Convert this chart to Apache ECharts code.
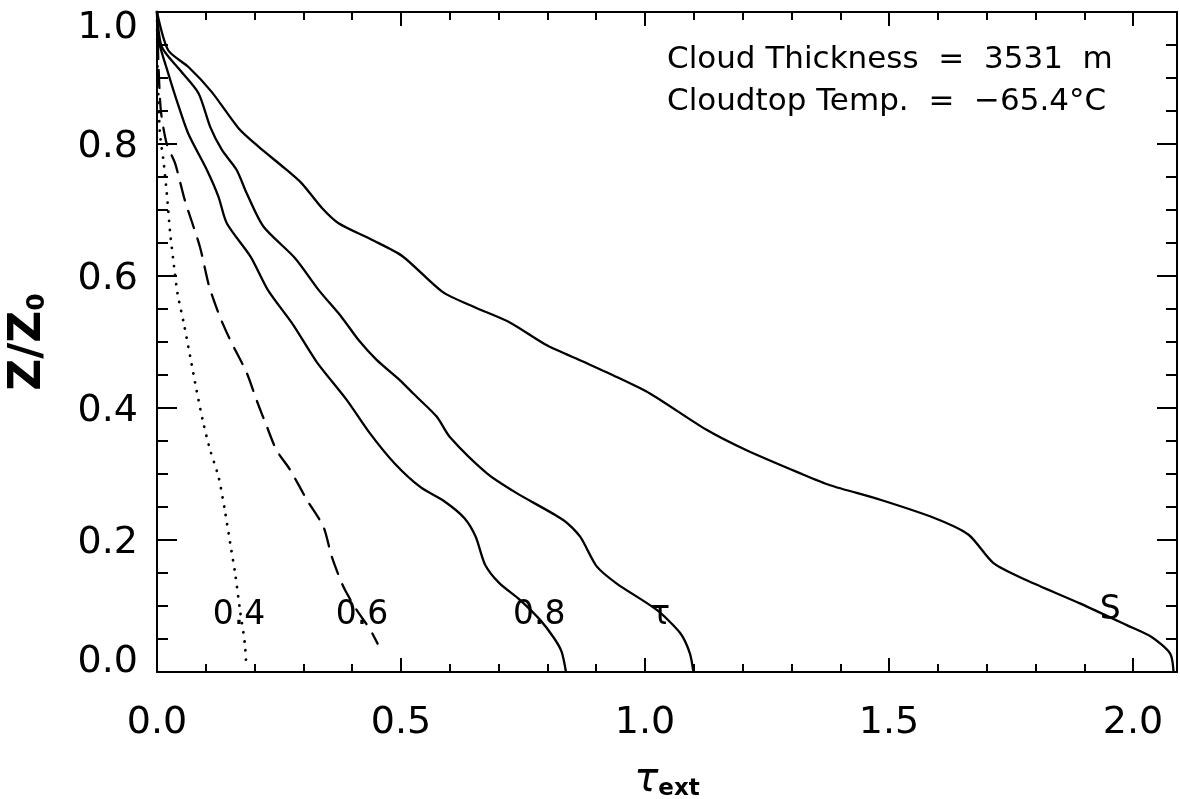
<!DOCTYPE html>
<html>
<head>
<meta charset="utf-8">
<title>Z/Z0 vs tau_ext</title>
<script src="https://cdn.jsdelivr.net/npm/echarts@6/dist/echarts.min.js"></script>
<style>
  html, body { margin: 0; padding: 0; background: #fff; }
  #chart { width: 1180px; height: 799px; }
</style>
</head>
<body>
<div id="chart"></div>
<script>
// 数据：每条曲线 [tau_ext, Z/Z0]
var curve04 = [[0,1.0],[0.001,0.92],[0.003,0.867],[0.006,0.816],[0.013,0.776],[0.020,0.726],[0.027,0.665],
  [0.035,0.614],[0.042,0.574],[0.055,0.528],[0.068,0.478],[0.081,0.427],[0.095,0.377],[0.109,0.336],
  [0.126,0.296],[0.139,0.245],[0.150,0.195],[0.160,0.150],[0.170,0.094],[0.180,0.043],[0.183,0.008]];
var curve06 = [[0,1.0],[0.003,0.92],[0.008,0.85],[0.020,0.80],[0.037,0.771],[0.057,0.715],[0.088,0.644],
  [0.107,0.584],[0.129,0.538],[0.150,0.503],[0.184,0.453],[0.204,0.412],[0.225,0.372],[0.245,0.336],
  [0.273,0.306],[0.307,0.261],[0.341,0.220],[0.358,0.175],[0.382,0.129],[0.409,0.094],[0.437,0.064],[0.452,0.043]];
var curve08 = [[0,1.0],[0.003,0.958],[0.023,0.907],[0.040,0.867],[0.064,0.816],[0.102,0.761],[0.126,0.720],
  [0.143,0.680],[0.192,0.629],[0.227,0.579],[0.279,0.526],[0.327,0.470],[0.389,0.412],[0.436,0.362],
  [0.487,0.316],[0.540,0.280],[0.590,0.258],[0.630,0.233],[0.653,0.205],[0.672,0.163],[0.701,0.135],
  [0.744,0.109],[0.785,0.079],[0.812,0.053],[0.829,0.031],[0.838,0.0]];
var curveTau = [[0,1.0],[0.010,0.947],[0.047,0.912],[0.085,0.877],[0.109,0.826],[0.133,0.791],[0.163,0.761],
  [0.184,0.725],[0.218,0.675],[0.283,0.627],[0.331,0.579],[0.378,0.538],[0.413,0.503],[0.450,0.473],
  [0.498,0.442],[0.525,0.422],[0.573,0.387],[0.600,0.356],[0.676,0.301],[0.737,0.271],[0.833,0.230],
  [0.867,0.205],[0.901,0.160],[0.942,0.134],[1.024,0.094],[1.072,0.059],[1.092,0.028],[1.099,0.0]];
var curveS = [[0,1.0],[0.023,0.942],[0.064,0.917],[0.112,0.879],[0.167,0.824],[0.208,0.796],[0.262,0.763],
  [0.297,0.740],[0.338,0.703],[0.372,0.680],[0.440,0.655],[0.503,0.630],[0.585,0.576],[0.650,0.553],
  [0.722,0.530],[0.799,0.495],[0.874,0.470],[0.942,0.447],[1.010,0.422],[1.126,0.367],[1.208,0.336],
  [1.318,0.301],[1.379,0.283],[1.482,0.261],[1.594,0.233],[1.663,0.208],[1.714,0.165],[1.782,0.139],
  [1.891,0.104],[1.987,0.071],[2.038,0.053],[2.076,0.028],[2.083,0.0]];
// 曲线标注
var curveLabels = [[0.168,0.086,'0.4'],[0.420,0.086,'0.6'],[0.783,0.086,'0.8'],[1.031,0.086,'τ'],[1.953,0.094,'S']];
var infoLines = ['Cloud Thickness  =  3531  m', 'Cloudtop Temp.  =  \u221265.4\u00b0C'];

var FONT = 'DejaVu Sans';

function lineSeries(data, type){
    return {
        type: 'line',
        data: data,
        showSymbol: false,
        symbol: 'none',
        smooth: 0.25,
        silent: true,
        lineStyle: { color: '#000', width: type === 'dotted' ? 2.8 : 2.3, type: type === 'dashed' ? [18, 11] : (type === 'dotted' ? [0.1, 9] : 'solid'), cap: 'round' }
    };
}

// y轴标签：上下两端往轴内收
function yLabel(v){
    if (v >= 0.999) return '{top|1.0}';
    if (v <= 0.001) return '{bot|0.0}';
    return '{mid|' + v.toFixed(1) + '}';
}
var yLabelRich = {
    top: { fontFamily: FONT, fontSize: 38, color: '#000', padding: [32, 0, 0, 0] },
    bot: { fontFamily: FONT, fontSize: 38, color: '#000', padding: [0, 0, 20, 0] },
    mid: { fontFamily: FONT, fontSize: 38, color: '#000', padding: [7, 0, 0, 0] }
};

var dom = document.getElementById('chart');
var myChart = echarts.init(dom, null, { renderer: 'canvas' });

var baseTick = { show: true, inside: true, length: 14, lineStyle: { color: '#000', width: 2 } };

var option = {
    animation: false,
    backgroundColor: '#fff',
    grid: { left: 157, right: 3, top: 12, bottom: 127, outerBoundsMode: 'none', containLabel: false },
    xAxis: [{
        type: 'value', min: 0, max: 2.09, interval: 0.5,
        axisLine: { show: true, onZero: false, lineStyle: { color: '#000', width: 2 } },
        axisTick: baseTick,
        minorTick: { show: true, splitNumber: 5, length: 8, lineStyle: { color: '#000', width: 2 } },
        splitLine: { show: false },
        axisLabel: { margin: 32, color: '#000', fontFamily: FONT, fontSize: 38, showMaxLabel: false,
            formatter: function(v){ return v.toFixed(1); } },
        name: '{t|τ}{s|ext}', nameLocation: 'middle', nameGap: 88,
        nameTextStyle: { rich: {
            t: { fontFamily: FONT, fontSize: 40, fontStyle: 'italic', color: '#000' },
            s: { fontFamily: FONT, fontSize: 23, fontWeight: 'bold', color: '#000', padding: [18, 0, 0, 0] }
        } }
    }, {
        type: 'value', position: 'top', min: 0, max: 2.09, interval: 0.5,
        axisLine: { show: true, onZero: false, lineStyle: { color: '#000', width: 2 } },
        axisTick: baseTick,
        minorTick: { show: true, splitNumber: 5, length: 8, lineStyle: { color: '#000', width: 2 } },
        splitLine: { show: false }, axisLabel: { show: false }
    }],
    yAxis: [{
        type: 'value', min: 0, max: 1.0, interval: 0.2,
        axisLine: { show: true, onZero: false, lineStyle: { color: '#000', width: 2 } },
        axisTick: { show: true, inside: true, length: 20, lineStyle: { color: '#000', width: 2 } },
        minorTick: { show: true, splitNumber: 4, length: 11, lineStyle: { color: '#000', width: 2 } },
        splitLine: { show: false },
        axisLabel: { margin: 19, color: '#000', formatter: yLabel, rich: yLabelRich },
        name: '{z|Z/Z}{s|0}', nameLocation: 'middle', nameGap: 106, nameRotate: 90,
        nameTextStyle: { rich: {
            z: { fontFamily: FONT, fontSize: 44, fontWeight: 'bold', color: '#000' },
            s: { fontFamily: FONT, fontSize: 25, fontWeight: 'bold', color: '#000', padding: [16, 0, 0, 0] }
        } }
    }, {
        type: 'value', position: 'right', min: 0, max: 1.0, interval: 0.2,
        axisLine: { show: true, onZero: false, lineStyle: { color: '#000', width: 2 } },
        axisTick: { show: true, inside: true, length: 20, lineStyle: { color: '#000', width: 2 } },
        minorTick: { show: true, splitNumber: 4, length: 11, lineStyle: { color: '#000', width: 2 } },
        splitLine: { show: false }, axisLabel: { show: false }
    }],
    graphic: [
        { type: 'text', left: 667, top: 44, style: { text: infoLines[0], fontFamily: FONT, fontSize: 31, fill: '#000' } },
        { type: 'text', left: 667, top: 86, style: { text: infoLines[1], fontFamily: FONT, fontSize: 31, fill: '#000' } }
    ],
    series: [
        lineSeries(curve04, 'dotted'),
        lineSeries(curve06, 'dashed'),
        lineSeries(curve08, 'solid'),
        lineSeries(curveTau, 'solid'),
        lineSeries(curveS, 'solid'),
        {
            type: 'scatter', symbolSize: 1, silent: true, z: 5,
            itemStyle: { color: 'transparent' },
            data: curveLabels,
            label: { show: true, position: 'inside', color: '#000', opacity: 1, fontFamily: FONT, fontSize: 33,
                formatter: function(p){ return p.value[2]; } }
        }
    ]
};
myChart.setOption(option);
</script>
</body>
</html>
